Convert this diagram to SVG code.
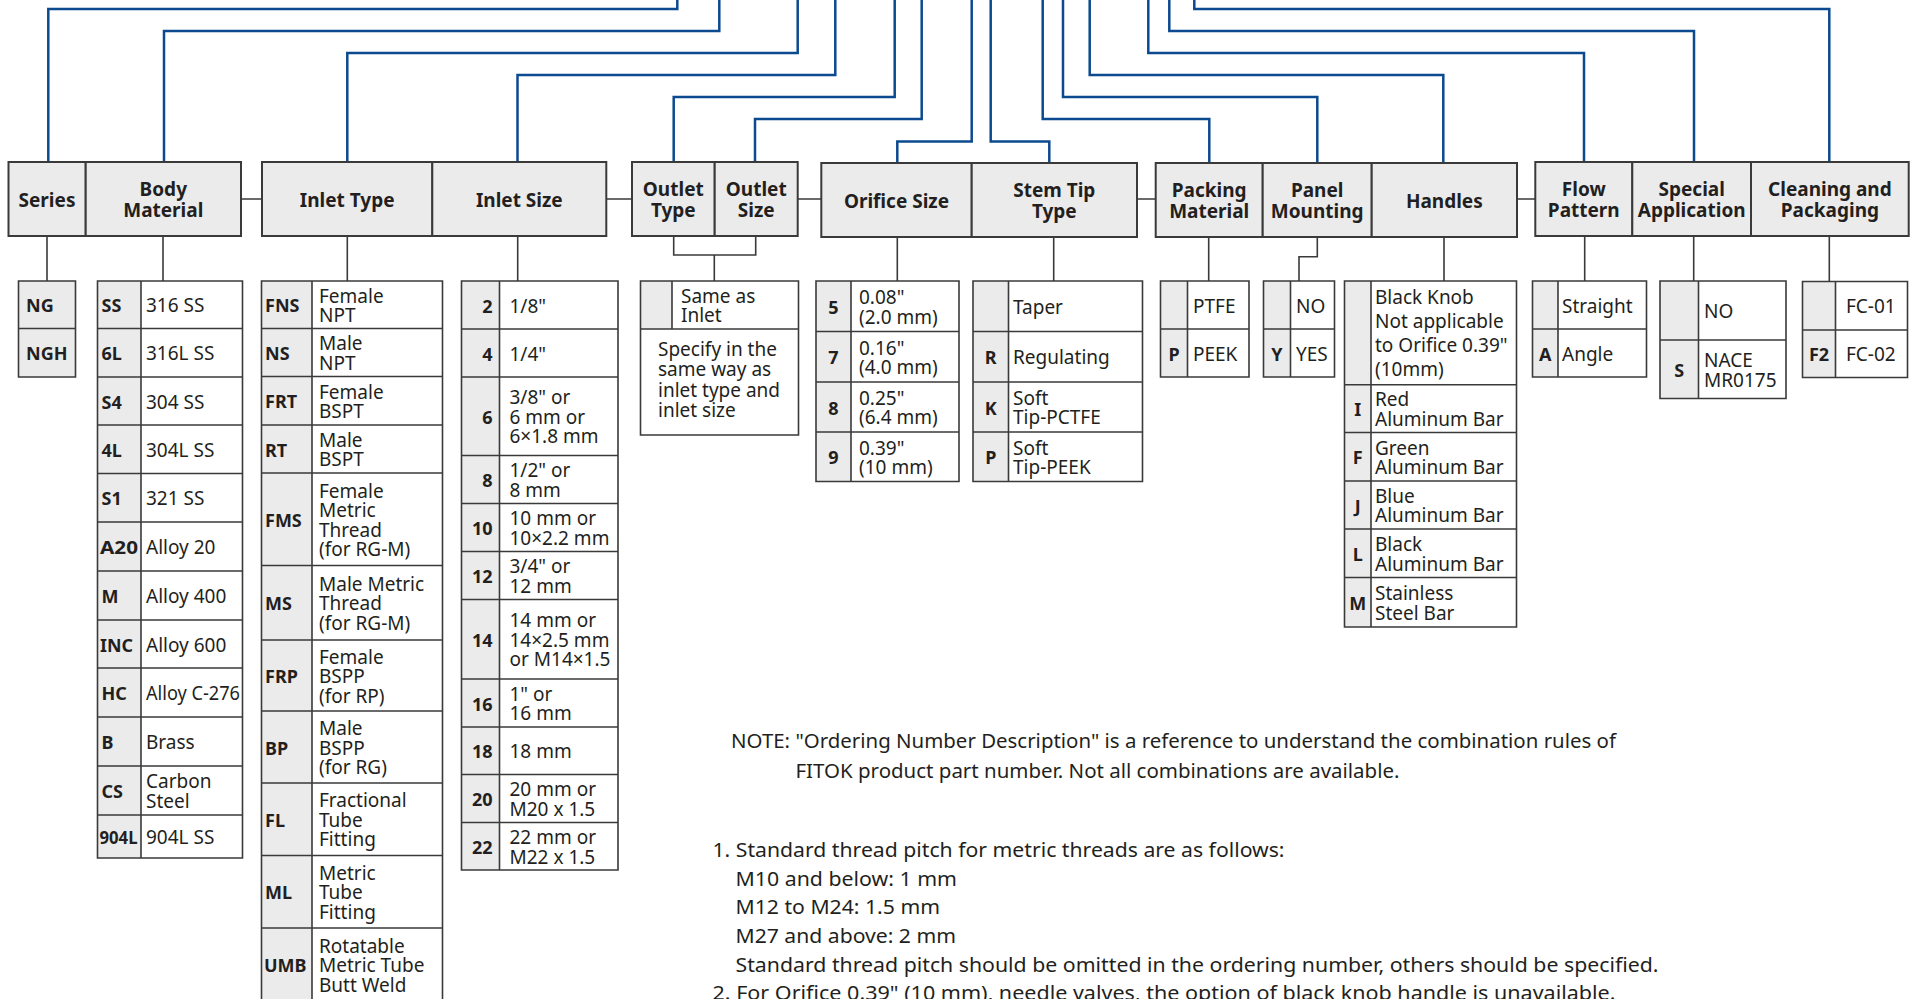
<svg xmlns="http://www.w3.org/2000/svg" width="1910" height="999" viewBox="0 0 1910 999">
<style>
.hb{fill:#ebebec;stroke:#3a3a3a;stroke-width:2}
.g{fill:#ebebec}
.w{fill:#fff}
.tb{fill:none;stroke:#3a3a3a;stroke-width:1.6}
.ht{font-family:"Noto Sans",sans-serif;font-weight:bold;font-size:19px;fill:#231f20;text-anchor:middle}
.cd{font-family:"Noto Sans",sans-serif;font-weight:bold;font-size:18px;fill:#231f20}
.cc{font-family:"Noto Sans",sans-serif;font-weight:bold;font-size:18px;fill:#231f20;text-anchor:middle}
.cr{font-family:"Noto Sans",sans-serif;font-weight:bold;font-size:18px;fill:#231f20;text-anchor:end}
.ds{font-family:"Noto Sans",sans-serif;font-size:19px;fill:#231f20}
.nt{font-family:"Noto Sans",sans-serif;font-size:20px;fill:#231f20}
.blue{fill:none;stroke:#0b4a8f;stroke-width:2.5;stroke-linejoin:miter}
.con{fill:none;stroke:#3a3a3a;stroke-width:1.6}
</style>
<rect x="0" y="0" width="1910" height="999" fill="#fff"/>

<g id="connectors">
  <g id="blue-lines">
    <path class="blue" d="M48.3,161.5 V9 H677.3 V-3"/>
    <path class="blue" d="M164,161.5 V31 H719.3 V-3"/>
    <path class="blue" d="M347.3,161.5 V53 H797.7 V-3"/>
    <path class="blue" d="M517.5,161.5 V75 H835.3 V-3"/>
    <path class="blue" d="M673.7,161.5 V97 H894.7 V-3"/>
    <path class="blue" d="M755,161.5 V119 H921.7 V-3"/>
    <path class="blue" d="M897.3,162.5 V141.5 H971.7 V-3"/>
    <path class="blue" d="M1049.3,162.5 V141.5 H990.7 V-3"/>
    <path class="blue" d="M1209.3,162.5 V119 H1042.7 V-3"/>
    <path class="blue" d="M1317.3,162.5 V97 H1063 V-3"/>
    <path class="blue" d="M1443.3,162.5 V75 H1089.7 V-3"/>
    <path class="blue" d="M1584,161.5 V53 H1148.3 V-3"/>
    <path class="blue" d="M1694,161.5 V31 H1169.3 V-3"/>
    <path class="blue" d="M1829.3,161.5 V9 H1194.3 V-3"/>
  </g>
  <g id="gray-lines">
    <path class="con" d="M241,199 H262 M606.3,199 H632 M797.7,199 H821.3 M1137,199 H1155.7 M1517,199 H1535.3"/>
    <path class="con" d="M47,236 V281 M163,236 V281 M347.3,236 V281 M517.7,236 V281"/>
    <path class="con" d="M673.7,236 V255 H755.7 V236 M714.3,255 V281"/>
    <path class="con" d="M897.3,237 V281 M1053.7,237 V281 M1208.7,237 V281"/>
    <path class="con" d="M1317.3,237 V256.7 H1299 V281 M1444,237 V281"/>
    <path class="con" d="M1584.7,236 V281 M1693.7,236 V281 M1829.3,236 V281.5"/>
  </g>
</g>

<!-- header nodes -->
<g id="h-series"><rect class="hb" x="8.5" y="162" width="77.2" height="74"/><text class="ht" x="47" y="206.5">Series</text></g>
<g id="h-body"><rect class="hb" x="85.7" y="162" width="155.3" height="74"/><text class="ht" x="163.3" y="195.5">Body</text><text class="ht" x="163.3" y="217">Material</text></g>
<g id="h-inlet-type"><rect class="hb" x="262" y="162" width="170.3" height="74"/><text class="ht" x="347.2" y="206.5">Inlet Type</text></g>
<g id="h-inlet-size"><rect class="hb" x="432.3" y="162" width="174" height="74"/><text class="ht" x="519.3" y="206.5">Inlet Size</text></g>
<g id="h-outlet-type"><rect class="hb" x="632" y="162" width="82.7" height="74"/><text class="ht" x="673.3" y="195.5">Outlet</text><text class="ht" x="673.3" y="217">Type</text></g>
<g id="h-outlet-size"><rect class="hb" x="714.7" y="162" width="83" height="74"/><text class="ht" x="756.2" y="195.5">Outlet</text><text class="ht" x="756.2" y="217">Size</text></g>
<g id="h-orifice"><rect class="hb" x="821.3" y="163" width="150.4" height="74"/><text class="ht" x="896.5" y="207.5">Orifice Size</text></g>
<g id="h-stem"><rect class="hb" x="971.7" y="163" width="165.3" height="74"/><text class="ht" x="1054.3" y="196.5">Stem Tip</text><text class="ht" x="1054.3" y="218">Type</text></g>
<g id="h-packing"><rect class="hb" x="1155.7" y="163" width="107" height="74"/><text class="ht" x="1209.2" y="196.5">Packing</text><text class="ht" x="1209.2" y="218">Material</text></g>
<g id="h-panel"><rect class="hb" x="1262.7" y="163" width="109" height="74"/><text class="ht" x="1317.2" y="196.5">Panel</text><text class="ht" x="1317.2" y="218">Mounting</text></g>
<g id="h-handles"><rect class="hb" x="1371.7" y="163" width="145.3" height="74"/><text class="ht" x="1444.3" y="207.5">Handles</text></g>
<g id="h-flow"><rect class="hb" x="1535.3" y="162" width="97" height="74"/><text class="ht" x="1583.8" y="195.5">Flow</text><text class="ht" x="1583.8" y="217">Pattern</text></g>
<g id="h-special"><rect class="hb" x="1632.3" y="162" width="118.7" height="74"/><text class="ht" x="1691.7" y="195.5">Special</text><text class="ht" x="1691.7" y="217">Application</text></g>
<g id="h-cleaning"><rect class="hb" x="1751" y="162" width="157.7" height="74"/><text class="ht" x="1829.9" y="195.5">Cleaning and</text><text class="ht" x="1829.9" y="217">Packaging</text></g>

<!-- Series options -->
<g id="t-series">
  <rect class="g" x="18.5" y="281" width="57" height="96"/>
  <path class="tb" d="M18.5,281 H75.5 V377 H18.5 Z M18.5,328.5 H75.5"/>
  <text class="cd" x="26" y="312.25">NG</text>
  <text class="cd" x="26" y="360.25">NGH</text>
</g>

<!-- Body material options -->
<g id="t-body">
  <rect class="g" x="97.5" y="281" width="43.5" height="577"/>
  <rect class="w" x="141" y="281" width="101.5" height="577"/>
  <path class="tb" d="M97.5,281 H242.5 V858 H97.5 Z M141,281 V858 M97.5,328.5 H242.5 M97.5,377 H242.5 M97.5,425 H242.5 M97.5,473.5 H242.5 M97.5,522 H242.5 M97.5,571 H242.5 M97.5,620 H242.5 M97.5,668 H242.5 M97.5,717 H242.5 M97.5,766 H242.5 M97.5,815 H242.5"/>
  <text class="cd" x="101.5" y="312.25">SS</text><text class="ds" x="146" y="312.25">316 SS</text>
  <text class="cd" x="101.5" y="360.25">6L</text><text class="ds" x="146" y="360.25">316L SS</text>
  <text class="cd" x="101.5" y="408.5">S4</text><text class="ds" x="146" y="408.5">304 SS</text>
  <text class="cd" x="101.5" y="456.75">4L</text><text class="ds" x="146" y="456.75">304L SS</text>
  <text class="cd" x="101.5" y="505.25">S1</text><text class="ds" x="146" y="505.25">321 SS</text>
  <text class="cd" x="100" y="554" textLength="38" lengthAdjust="spacingAndGlyphs">A20</text><text class="ds" x="146" y="554">Alloy 20</text>
  <text class="cd" x="101.5" y="603">M</text><text class="ds" x="146" y="603">Alloy 400</text>
  <text class="cd" x="100" y="651.5" textLength="33" lengthAdjust="spacingAndGlyphs">INC</text><text class="ds" x="146" y="651.5">Alloy 600</text>
  <text class="cd" x="101.5" y="700">HC</text><text class="ds" x="146" y="700" textLength="94" lengthAdjust="spacingAndGlyphs">Alloy C-276</text>
  <text class="cd" x="101.5" y="749">B</text><text class="ds" x="146" y="749">Brass</text>
  <text class="cd" x="101.5" y="798">CS</text><text class="ds" x="146" y="788.25">Carbon</text><text class="ds" x="146" y="807.75">Steel</text>
  <text class="cd" x="99.5" y="844" textLength="38" lengthAdjust="spacingAndGlyphs">904L</text><text class="ds" x="146" y="844">904L SS</text>
</g>

<!-- Inlet type options -->
<g id="t-inlet-type">
  <rect class="g" x="261.5" y="281" width="50.5" height="720"/>
  <rect class="w" x="312" y="281" width="130.5" height="720"/>
  <path class="tb" d="M261.5,1002 V281 H442.5 V1002 M312,281 V1002 M261.5,328.5 H442.5 M261.5,376.5 H442.5 M261.5,425 H442.5 M261.5,473 H442.5 M261.5,565.5 H442.5 M261.5,640 H442.5 M261.5,711 H442.5 M261.5,783 H442.5 M261.5,855.5 H442.5 M261.5,928 H442.5"/>
  <text class="cd" x="265" y="312.25">FNS</text><text class="ds" x="319" y="302.5">Female</text><text class="ds" x="319" y="322">NPT</text>
  <text class="cd" x="265" y="360">NS</text><text class="ds" x="319" y="350.25">Male</text><text class="ds" x="319" y="369.75">NPT</text>
  <text class="cd" x="265" y="408.25">FRT</text><text class="ds" x="319" y="398.5">Female</text><text class="ds" x="319" y="418">BSPT</text>
  <text class="cd" x="265" y="456.5">RT</text><text class="ds" x="319" y="446.75">Male</text><text class="ds" x="319" y="466.25">BSPT</text>
  <text class="cd" x="265" y="526.75">FMS</text><text class="ds" x="319" y="497.5">Female</text><text class="ds" x="319" y="517">Metric</text><text class="ds" x="319" y="536.5">Thread</text><text class="ds" x="319" y="556">(for RG-M)</text>
  <text class="cd" x="265" y="610.25">MS</text><text class="ds" x="319" y="590.75">Male Metric</text><text class="ds" x="319" y="610.25">Thread</text><text class="ds" x="319" y="629.75">(for RG-M)</text>
  <text class="cd" x="265" y="683">FRP</text><text class="ds" x="319" y="663.5">Female</text><text class="ds" x="319" y="683">BSPP</text><text class="ds" x="319" y="702.5">(for RP)</text>
  <text class="cd" x="265" y="754.5">BP</text><text class="ds" x="319" y="735">Male</text><text class="ds" x="319" y="754.5">BSPP</text><text class="ds" x="319" y="774">(for RG)</text>
  <text class="cd" x="265" y="826.75">FL</text><text class="ds" x="319" y="807.25">Fractional</text><text class="ds" x="319" y="826.75">Tube</text><text class="ds" x="319" y="846.25">Fitting</text>
  <text class="cd" x="265" y="899.25">ML</text><text class="ds" x="319" y="879.75">Metric</text><text class="ds" x="319" y="899.25">Tube</text><text class="ds" x="319" y="918.75">Fitting</text>
  <text class="cd" x="264" y="972">UMB</text><text class="ds" x="319" y="952.5">Rotatable</text><text class="ds" x="319" y="972">Metric Tube</text><text class="ds" x="319" y="991.5">Butt Weld</text>
</g>

<!-- Inlet size options -->
<g id="t-inlet-size">
  <rect class="g" x="461.5" y="281" width="38" height="589"/>
  <rect class="w" x="499.5" y="281" width="118.5" height="589"/>
  <path class="tb" d="M461.5,281 H618 V870 H461.5 Z M499.5,281 V870 M461.5,329 H618 M461.5,377 H618 M461.5,455.5 H618 M461.5,503.5 H618 M461.5,551.5 H618 M461.5,599.5 H618 M461.5,679 H618 M461.5,727 H618 M461.5,774.5 H618 M461.5,822.5 H618"/>
  <text class="cr" x="492.5" y="312.5">2</text><text class="ds" x="509.5" y="312.5">1/8"</text>
  <text class="cr" x="492.5" y="360.5">4</text><text class="ds" x="509.5" y="360.5">1/4"</text>
  <text class="cr" x="492.5" y="423.75">6</text><text class="ds" x="509.5" y="404.25">3/8" or</text><text class="ds" x="509.5" y="423.75">6 mm or</text><text class="ds" x="509.5" y="443.25">6×1.8 mm</text>
  <text class="cr" x="492.5" y="487">8</text><text class="ds" x="509.5" y="477.25">1/2" or</text><text class="ds" x="509.5" y="496.75">8 mm</text>
  <text class="cr" x="492.5" y="535">10</text><text class="ds" x="509.5" y="525.25">10 mm or</text><text class="ds" x="509.5" y="544.75">10×2.2 mm</text>
  <text class="cr" x="492.5" y="583">12</text><text class="ds" x="509.5" y="573.25">3/4" or</text><text class="ds" x="509.5" y="592.75">12 mm</text>
  <text class="cr" x="492.5" y="646.75">14</text><text class="ds" x="509.5" y="627.25">14 mm or</text><text class="ds" x="509.5" y="646.75">14×2.5 mm</text><text class="ds" x="509.5" y="666.25">or M14×1.5</text>
  <text class="cr" x="492.5" y="710.5">16</text><text class="ds" x="509.5" y="700.75">1" or</text><text class="ds" x="509.5" y="720.25">16 mm</text>
  <text class="cr" x="492.5" y="758.25">18</text><text class="ds" x="509.5" y="758.25">18 mm</text>
  <text class="cr" x="492.5" y="806">20</text><text class="ds" x="509.5" y="796.25">20 mm or</text><text class="ds" x="509.5" y="815.75">M20 x 1.5</text>
  <text class="cr" x="492.5" y="853.75">22</text><text class="ds" x="509.5" y="844">22 mm or</text><text class="ds" x="509.5" y="863.5">M22 x 1.5</text>
</g>

<!-- Outlet options -->
<g id="t-outlet">
  <rect class="w" x="640.5" y="281" width="158" height="154"/>
  <rect class="g" x="640.5" y="281" width="31.5" height="48"/>
  <path class="tb" d="M640.5,281 H798.5 V435 H640.5 Z M672,281 V329 M640.5,329 H798.5"/>
  <text class="ds" x="681" y="302.75">Same as</text><text class="ds" x="681" y="322.25">Inlet</text>
  <text class="ds" x="658" y="355.5">Specify in the</text>
  <text class="ds" x="658" y="376">same way as</text>
  <text class="ds" x="658" y="396.5">inlet type and</text>
  <text class="ds" x="658" y="417">inlet size</text>
</g>

<!-- Orifice options -->
<g id="t-orifice">
  <rect class="g" x="816" y="281" width="35" height="200.5"/>
  <rect class="w" x="851" y="281" width="108" height="200.5"/>
  <path class="tb" d="M816,281 H959 V481.5 H816 Z M851,281 V481.5 M816,331.5 H959 M816,382 H959 M816,432 H959"/>
  <text class="cc" x="833.5" y="313.75">5</text><text class="ds" x="859" y="304">0.08"</text><text class="ds" x="859" y="323.5">(2.0 mm)</text>
  <text class="cc" x="833.5" y="364.25">7</text><text class="ds" x="859" y="354.5">0.16"</text><text class="ds" x="859" y="374">(4.0 mm)</text>
  <text class="cc" x="833.5" y="414.5">8</text><text class="ds" x="859" y="404.75">0.25"</text><text class="ds" x="859" y="424.25">(6.4 mm)</text>
  <text class="cc" x="833.5" y="464.25">9</text><text class="ds" x="859" y="454.5">0.39"</text><text class="ds" x="859" y="474">(10 mm)</text>
</g>

<!-- Stem tip options -->
<g id="t-stem">
  <rect class="g" x="973" y="281" width="35.5" height="200.5"/>
  <rect class="w" x="1008.5" y="281" width="134" height="200.5"/>
  <path class="tb" d="M973,281 H1142.5 V481.5 H973 Z M1008.5,281 V481.5 M973,331.5 H1142.5 M973,382 H1142.5 M973,432 H1142.5"/>
  <text class="ds" x="1013" y="313.75">Taper</text>
  <text class="cc" x="990.75" y="364.25">R</text><text class="ds" x="1013" y="364.25">Regulating</text>
  <text class="cc" x="990.75" y="414.5">K</text><text class="ds" x="1013" y="404.75">Soft</text><text class="ds" x="1013" y="424.25">Tip-PCTFE</text>
  <text class="cc" x="990.75" y="464.25">P</text><text class="ds" x="1013" y="454.5">Soft</text><text class="ds" x="1013" y="474">Tip-PEEK</text>
</g>

<!-- Packing options -->
<g id="t-packing">
  <rect class="g" x="1160.5" y="281" width="27" height="96"/>
  <rect class="w" x="1187.5" y="281" width="61.5" height="96"/>
  <path class="tb" d="M1160.5,281 H1249 V377 H1160.5 Z M1187.5,281 V377 M1160.5,329 H1249"/>
  <text class="ds" x="1193" y="312.5">PTFE</text>
  <text class="cc" x="1174" y="360.5">P</text><text class="ds" x="1193" y="360.5">PEEK</text>
</g>

<!-- Panel options -->
<g id="t-panel">
  <rect class="g" x="1263.5" y="281" width="27" height="96"/>
  <rect class="w" x="1290.5" y="281" width="44" height="96"/>
  <path class="tb" d="M1263.5,281 H1334.5 V377 H1263.5 Z M1290.5,281 V377 M1263.5,329 H1334.5"/>
  <text class="ds" x="1296" y="312.5">NO</text>
  <text class="cc" x="1277" y="360.5">Y</text><text class="ds" x="1296" y="360.5">YES</text>
</g>

<!-- Handles options -->
<g id="t-handles">
  <rect class="g" x="1344.5" y="281" width="26.5" height="346"/>
  <rect class="w" x="1371" y="281" width="145.5" height="346"/>
  <path class="tb" d="M1344.5,281 H1516.5 V627 H1344.5 Z M1371,281 V627 M1344.5,384.75 H1516.5 M1344.5,432.5 H1516.5 M1344.5,481 H1516.5 M1344.5,529 H1516.5 M1344.5,577.5 H1516.5"/>
  <text class="ds" x="1375" y="304.4">Black Knob</text><text class="ds" x="1375" y="328.4">Not applicable</text><text class="ds" x="1375" y="352.4">to Orifice 0.39"</text><text class="ds" x="1375" y="376.4">(10mm)</text>
  <text class="cc" x="1357.75" y="416.1">I</text><text class="ds" x="1375" y="406.4">Red</text><text class="ds" x="1375" y="425.9">Aluminum Bar</text>
  <text class="cc" x="1357.75" y="464.25">F</text><text class="ds" x="1375" y="454.5">Green</text><text class="ds" x="1375" y="474">Aluminum Bar</text>
  <text class="cc" x="1357.75" y="512.5">J</text><text class="ds" x="1375" y="502.75">Blue</text><text class="ds" x="1375" y="522.25">Aluminum Bar</text>
  <text class="cc" x="1357.75" y="560.75">L</text><text class="ds" x="1375" y="551">Black</text><text class="ds" x="1375" y="570.5">Aluminum Bar</text>
  <text class="cc" x="1357.75" y="609.75">M</text><text class="ds" x="1375" y="600">Stainless</text><text class="ds" x="1375" y="619.5">Steel Bar</text>
</g>

<!-- Flow pattern options -->
<g id="t-flow">
  <rect class="g" x="1532.5" y="281" width="25.5" height="96"/>
  <rect class="w" x="1558" y="281" width="88.5" height="96"/>
  <path class="tb" d="M1532.5,281 H1646.5 V377 H1532.5 Z M1558,281 V377 M1532.5,329 H1646.5"/>
  <text class="ds" x="1562" y="312.5">Straight</text>
  <text class="cc" x="1545.25" y="360.5">A</text><text class="ds" x="1562" y="360.5">Angle</text>
</g>

<!-- Special application options -->
<g id="t-special">
  <rect class="g" x="1660" y="281" width="38.5" height="117.5"/>
  <rect class="w" x="1698.5" y="281" width="87.5" height="117.5"/>
  <path class="tb" d="M1660,281 H1786 V398.5 H1660 Z M1698.5,281 V398.5 M1660,340 H1786"/>
  <text class="ds" x="1704" y="318">NO</text>
  <text class="cc" x="1679.25" y="376.75">S</text><text class="ds" x="1704" y="367">NACE</text><text class="ds" x="1704" y="386.5">MR0175</text>
</g>

<!-- Cleaning and packaging options -->
<g id="t-cleaning">
  <rect class="g" x="1802.5" y="281.5" width="33" height="96"/>
  <rect class="w" x="1835.5" y="281.5" width="72" height="96"/>
  <path class="tb" d="M1802.5,281.5 H1907.5 V377.5 H1802.5 Z M1835.5,281.5 V377.5 M1802.5,330 H1907.5"/>
  <text class="ds" x="1846" y="313.25">FC-01</text>
  <text class="cc" x="1819" y="361.25">F2</text><text class="ds" x="1846" y="361.25">FC-02</text>
</g>

<!-- Notes -->
<g id="notes">
  <text class="nt" x="731" y="748" textLength="885" lengthAdjust="spacingAndGlyphs">NOTE: "Ordering Number Description" is a reference to understand the combination rules of</text>
  <text class="nt" x="795.5" y="777.5" textLength="604" lengthAdjust="spacingAndGlyphs">FITOK product part number. Not all combinations are available.</text>
  <text class="nt" x="712.5" y="856.5" textLength="572" lengthAdjust="spacingAndGlyphs">1. Standard thread pitch for metric threads are as follows:</text>
  <text class="nt" x="735.5" y="885.5" textLength="221.5" lengthAdjust="spacingAndGlyphs">M10 and below: 1 mm</text>
  <text class="nt" x="735.5" y="914" textLength="204.5" lengthAdjust="spacingAndGlyphs">M12 to M24: 1.5 mm</text>
  <text class="nt" x="735.5" y="943" textLength="220.5" lengthAdjust="spacingAndGlyphs">M27 and above: 2 mm</text>
  <text class="nt" x="735.5" y="971.5" textLength="923" lengthAdjust="spacingAndGlyphs">Standard thread pitch should be omitted in the ordering number, others should be specified.</text>
  <text class="nt" x="712.5" y="1000" textLength="903" lengthAdjust="spacingAndGlyphs">2. For Orifice 0.39" (10 mm), needle valves, the option of black knob handle is unavailable.</text>
</g>
</svg>
